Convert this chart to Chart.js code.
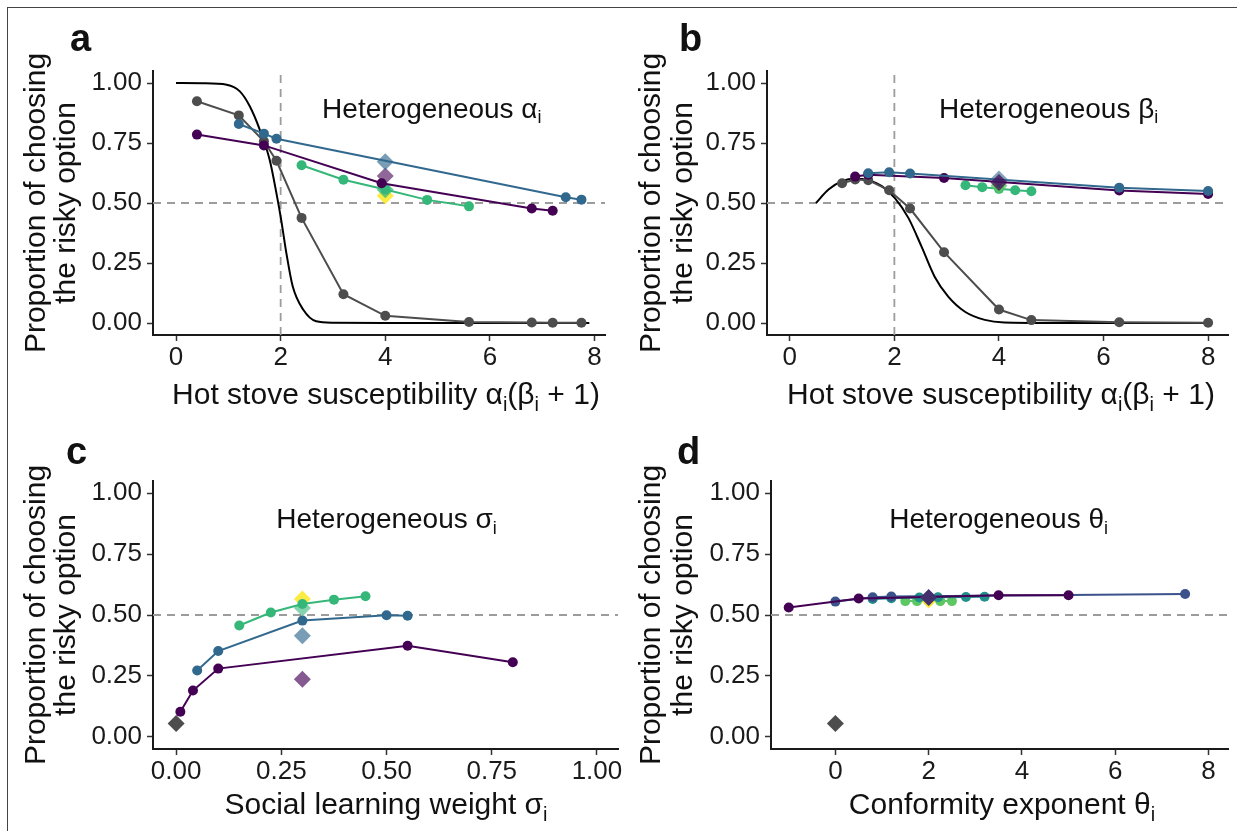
<!DOCTYPE html>
<html lang="en">
<head>
<meta charset="UTF-8">
<title>Proportion of choosing the risky option under heterogeneous parameters</title>
<script src="https://cdn.jsdelivr.net/npm/chart.js"></script>
<style>
  body { margin: 0; background: #fff; }
  #page { position: relative; width: 1237px; height: 831px; overflow: hidden; background: #fff; }
  #page canvas { position: absolute; left: 0; top: 0; }
  #frame { position: absolute; left: 7px; top: 7px; right: -10px; bottom: -10px;
           border-left: 1.5px solid #444; border-top: 1.5px solid #444; }
</style>
</head>
<body>
<div id="page">
  <div id="frame"></div>
  <canvas id="panelA" width="1237" height="831"></canvas>
  <canvas id="panelB" width="1237" height="831"></canvas>
  <canvas id="panelC" width="1237" height="831"></canvas>
  <canvas id="panelD" width="1237" height="831"></canvas>
</div>
<script>
// ---- colours (viridis) ----
const PURPLE = '#440154', BLUE = '#31688E', GREEN = '#35B779', YELLOW = '#FDE725';
const D_BLUE = '#3B528B', D_TEAL = '#21908C', D_GREEN = '#5DC863';
const GRAY = '#4d4d4d';

const yTicks = [0, 0.25, 0.5, 0.75, 1];

// ---- panel a: heterogeneous alpha ----
const aTicksX = [0, 2, 4, 6, 8];
const aCurveX = [0, 0.5, 0.97, 1.22, 1.41, 1.6, 1.79, 1.92, 2.01, 2.11, 2.23, 2.43, 2.68, 3.0, 4, 5, 6, 7, 7.9];
const aCurveY = [1, 0.999, 0.993, 0.965, 0.903, 0.806, 0.68, 0.54, 0.43, 0.29, 0.153, 0.056, 0.007, 0.001, 0, 0, 0, 0, 0];
const aGrayX = [0.4, 1.2, 1.68, 1.92, 2.4, 3.2, 4.0, 5.6, 6.8, 7.2, 7.75];
const aGrayY = [0.924, 0.865, 0.757, 0.676, 0.438, 0.12, 0.03, 0.004, 0.002, 0.001, 0.001];
const aBlueX = [1.2, 1.68, 1.92, 7.45, 7.75];
const aBlueY = [0.829, 0.789, 0.768, 0.524, 0.514];
const aPurpleX = [0.4, 1.68, 3.93, 6.8, 7.2];
const aPurpleY = [0.785, 0.740, 0.582, 0.477, 0.468];
const aGreenX = [2.4, 3.2, 4.0, 4.8, 5.6];
const aGreenY = [0.657, 0.597, 0.556, 0.513, 0.486];
const aMeanX = 4;
const aMeanY = { blue: 0.672, purple: 0.612, green: 0.555, yellow: 0.53 };

// ---- panel b: heterogeneous beta ----
const bTicksX = [0, 2, 4, 6, 8];
const bCurveX = [0.5, 0.74, 1.0, 1.25, 1.5, 1.76, 2.01, 2.27, 2.52, 2.77, 3.03, 3.35, 3.73, 4.1, 5, 6, 7, 8];
const bCurveY = [0.5, 0.556, 0.591, 0.601, 0.595, 0.57, 0.52, 0.437, 0.318, 0.193, 0.11, 0.047, 0.013, 0.002, 0, 0, 0, 0];
const bGrayX = [1.0, 1.25, 1.5, 1.9, 2.3, 2.95, 4.0, 4.62, 6.3, 8.0];
const bGrayY = [0.582, 0.598, 0.595, 0.553, 0.477, 0.295, 0.056, 0.012, 0.003, 0.001];
const bBlueX = [1.5, 1.9, 2.3, 6.3, 8.0];
const bBlueY = [0.624, 0.628, 0.623, 0.564, 0.55];
const bPurpleX = [1.25, 1.5, 2.95, 6.3, 8.0];
const bPurpleY = [0.61, 0.618, 0.604, 0.552, 0.538];
const bGreenX = [3.36, 3.68, 4.0, 4.31, 4.62];
const bGreenY = [0.574, 0.566, 0.559, 0.553, 0.549];
const bMeanX = 4;
const bMeanY = { blue: 0.6, purple: 0.585, green: 0.572 };

// ---- panel c: heterogeneous sigma ----
const cTicksX = [0, 0.25, 0.5, 0.75, 1];
const cPurpleX = [0.01, 0.04, 0.1, 0.55, 0.8];
const cPurpleY = [0.103, 0.19, 0.28, 0.374, 0.306];
const cBlueX = [0.05, 0.1, 0.3, 0.5, 0.55];
const cBlueY = [0.272, 0.352, 0.477, 0.499, 0.497];
const cGreenX = [0.15, 0.225, 0.3, 0.375, 0.45];
const cGreenY = [0.457, 0.51, 0.545, 0.563, 0.577];
const cMeanX = 0.3;
const cMeanY = { yellow: 0.566, green: 0.529, blue: 0.415, purple: 0.236 };
const cAsocial = { x: 0, y: 0.055 };

// ---- panel d: heterogeneous theta ----
const dTicksX = [0, 2, 4, 6, 8];
const dPurpleX = [-1, 0.5, 2, 3.5, 5];
const dPurpleY = [0.531, 0.568, 0.574, 0.581, 0.581];
const dBlueX = [0, 0.8, 1.2, 7.5];
const dBlueY = [0.555, 0.573, 0.576, 0.586];
const dTealX = [0.8, 1.2, 1.8, 2.2, 2.8, 3.2];
const dTealY = [0.566, 0.569, 0.572, 0.573, 0.574, 0.575];
const dGreenX = [1.5, 1.75, 2, 2.25, 2.5];
const dGreenY = [0.557, 0.557, 0.558, 0.557, 0.557];
const dMeanX = 2;
const dMeanY = { yellow: 0.562, dark: 0.572 };
const dAsocial = { x: 0, y: 0.055 };

const FONT = '"Liberation Sans", Arial, Helvetica, sans-serif';
Chart.defaults.font.family = FONT;
Chart.defaults.color = '#1a1a1a';

const pts = (xs, ys) => xs.map((x, i) => ({ x: x, y: ys[i] }));

function series(xs, ys, color, extra) {
  return Object.assign({
    data: pts(xs, ys), showLine: true, borderColor: color, backgroundColor: color,
    borderWidth: 2, pointRadius: 5, pointBorderWidth: 0, tension: 0
  }, extra || {});
}
function curve(xs, ys) {
  return { data: pts(xs, ys), showLine: true, borderColor: '#000', borderWidth: 2,
           pointRadius: 0, cubicInterpolationMode: 'monotone' };
}
function diamond(x, y, color, order) {
  return { data: [{ x: x, y: y }], showLine: false, backgroundColor: color, borderWidth: 0,
           pointStyle: 'rectRot', pointRadius: 8.5, order: order };
}
function dashed(points) {
  return { data: points, showLine: true, borderColor: '#9c9c9c', borderWidth: 1.8,
           borderDash: [8, 6], pointRadius: 0, order: 50 };
}

// text with "_x" marking a one-letter subscript
function drawRich(ctx, text, cx, cy, size) {
  const parts = [];
  for (let i = 0; i < text.length; i++) {
    if (text[i] === '_') { parts.push({ t: text[i + 1], sub: true }); i++; }
    else if (parts.length && !parts[parts.length - 1].sub) parts[parts.length - 1].t += text[i];
    else parts.push({ t: text[i], sub: false });
  }
  const fontOf = p => (p.sub ? Math.round(size * 0.66) : size) + 'px ' + FONT;
  let w = 0;
  parts.forEach(p => { ctx.font = fontOf(p); w += ctx.measureText(p.t).width; });
  let x = cx - w / 2;
  ctx.textAlign = 'left';
  parts.forEach(p => {
    ctx.font = fontOf(p);
    ctx.fillText(p.t, x, cy + (p.sub ? size * 0.3 : 0));
    x += ctx.measureText(p.t).width;
  });
}

const panelText = {
  id: 'panelText',
  afterDraw(chart, args, o) {
    const ctx = chart.ctx;
    ctx.save();
    ctx.fillStyle = '#111';
    // panel letter
    ctx.textBaseline = 'alphabetic';
    ctx.textAlign = 'left';
    ctx.font = 'bold 38px ' + FONT;
    ctx.fillText(o.letter, o.letterX, o.letterY);
    // y-axis title, two rotated lines
    ctx.textBaseline = 'middle';
    ctx.textAlign = 'center';
    ctx.font = '30px ' + FONT;
    ['Proportion of choosing', 'the risky option'].forEach((line, i) => {
      ctx.save();
      ctx.translate(o.yTitleX[i], o.yTitleY);
      ctx.rotate(-Math.PI / 2);
      ctx.fillText(line, 0, 0);
      ctx.restore();
    });
    // x-axis title
    drawRich(ctx, o.xTitle, o.xTitleX, o.xTitleY, 30);
    // in-panel label, placed in data units
    const sx = chart.scales.x, sy = chart.scales.y;
    drawRich(ctx, o.note, sx.getPixelForValue(o.noteX), sy.getPixelForValue(o.noteY), 28);
    ctx.restore();
  }
};

const YW = 100, XH = 60;
function makePanel(id, p) {
  const axisCommon = {
    type: 'linear',
    grid: { drawOnChartArea: false, drawTicks: true, tickLength: 6, tickWidth: 1.5, tickColor: '#333' },
    border: { display: true, color: '#1a1a1a', width: 2 }
  };
  return new Chart(document.getElementById(id), {
    type: 'scatter',
    data: { datasets: p.datasets },
    plugins: [panelText],
    options: {
      responsive: false, animation: false, events: [],
      layout: { padding: { left: p.area[0] - YW, top: p.area[1], right: 1237 - p.area[2], bottom: 831 - p.area[3] - XH } },
      plugins: { legend: { display: false }, tooltip: { enabled: false }, panelText: p.text },
      scales: {
        x: Object.assign({}, axisCommon, {
          min: p.x[0], max: p.x[1],
          afterFit: s => { s.height = XH; },
          afterBuildTicks: s => { s.ticks = p.xTicks.map(v => ({ value: v })); },
          ticks: { font: { size: 26 }, padding: 1, maxRotation: 0, autoSkip: false, callback: p.xFmt }
        }),
        y: Object.assign({}, axisCommon, {
          min: -0.05, max: 1.05,
          afterFit: s => { s.width = YW; },
          afterBuildTicks: s => { s.ticks = yTicks.map(v => ({ value: v })); },
          ticks: { font: { size: 26 }, padding: 5, autoSkip: false, callback: v => v.toFixed(2) }
        })
      }
    }
  });
}

const alpha = (hex, a) => {
  const n = parseInt(hex.slice(1), 16);
  return 'rgba(' + (n >> 16) + ',' + ((n >> 8) & 255) + ',' + (n & 255) + ',' + a + ')';
};
const intFmt = v => String(v);

// a
const aX = [-0.44, 8.2];
makePanel('panelA', {
  area: [153, 71, 605, 335], x: aX, xTicks: aTicksX, xFmt: intFmt,
  datasets: [
    series(aBlueX, aBlueY, BLUE, { order: 1 }),
    series(aPurpleX, aPurpleY, PURPLE, { order: 2 }),
    series(aGreenX, aGreenY, GREEN, { order: 3 }),
    diamond(aMeanX, aMeanY.blue, alpha(BLUE, 0.65), 4),
    diamond(aMeanX, aMeanY.purple, alpha(PURPLE, 0.6), 4),
    diamond(aMeanX, aMeanY.green, alpha(GREEN, 0.75), 5),
    diamond(aMeanX, aMeanY.yellow, alpha(YELLOW, 0.85), 6),
    series(aGrayX, aGrayY, GRAY, { order: 10 }),
    Object.assign(curve(aCurveX, aCurveY), { order: 11 }),
    dashed([{ x: aX[0], y: 0.5 }, { x: aX[1], y: 0.5 }]),
    dashed([{ x: 2, y: -0.05 }, { x: 2, y: 1.05 }])
  ],
  text: { letter: 'a', letterX: 70, letterY: 51, yTitleX: [37, 67], yTitleY: 203,
          xTitle: 'Hot stove susceptibility α_i(β_i + 1)', xTitleX: 386, xTitleY: 396,
          note: 'Heterogeneous α_i', noteX: 4.89, noteY: 0.888 }
});

// b
const bX = [-0.436, 8.39];
makePanel('panelB', {
  area: [767, 71, 1232, 335], x: bX, xTicks: bTicksX, xFmt: intFmt,
  datasets: [
    diamond(bMeanX, bMeanY.purple, alpha(PURPLE, 0.7), 1),
    diamond(bMeanX, bMeanY.blue, alpha(BLUE, 0.6), 2),
    series(bBlueX, bBlueY, BLUE, { order: 3 }),
    series(bPurpleX, bPurpleY, PURPLE, { order: 4 }),
    diamond(bMeanX, bMeanY.green, alpha(D_GREEN, 0.8), 5),
    series(bGreenX, bGreenY, GREEN, { order: 6 }),
    series(bGrayX, bGrayY, GRAY, { order: 10 }),
    Object.assign(curve(bCurveX, bCurveY), { order: 11 }),
    dashed([{ x: bX[0], y: 0.5 }, { x: bX[1], y: 0.5 }]),
    dashed([{ x: 2, y: -0.05 }, { x: 2, y: 1.05 }])
  ],
  text: { letter: 'b', letterX: 679, letterY: 51, yTitleX: [652, 684], yTitleY: 203,
          xTitle: 'Hot stove susceptibility α_i(β_i + 1)', xTitleX: 1001, xTitleY: 396,
          note: 'Heterogeneous β_i', noteX: 4.95, noteY: 0.888 }
});

// c
const cX = [-0.055, 1.05];
makePanel('panelC', {
  area: [153, 481, 618, 749], x: cX, xTicks: cTicksX, xFmt: v => v.toFixed(2),
  datasets: [
    series(cGreenX, cGreenY, GREEN, { order: 1 }),
    diamond(cMeanX, cMeanY.yellow, alpha(YELLOW, 0.85), 2),
    diamond(cMeanX, cMeanY.green, alpha(GREEN, 0.6), 2),
    series(cBlueX, cBlueY, BLUE, { order: 3 }),
    diamond(cMeanX, cMeanY.blue, alpha(BLUE, 0.65), 4),
    series(cPurpleX, cPurpleY, PURPLE, { order: 5 }),
    diamond(cMeanX, cMeanY.purple, alpha(PURPLE, 0.65), 6),
    diamond(cAsocial.x, cAsocial.y, GRAY, 7),
    dashed([{ x: cX[0], y: 0.5 }, { x: cX[1], y: 0.5 }])
  ],
  text: { letter: 'c', letterX: 66, letterY: 464, yTitleX: [37, 67], yTitleY: 615,
          xTitle: 'Social learning weight σ_i', xTitleX: 386, xTitleY: 806,
          note: 'Heterogeneous σ_i', noteX: 0.5, noteY: 0.889 }
});

// d
const dX = [-1.38, 8.43];
makePanel('panelD', {
  area: [771, 481, 1232, 749], x: dX, xTicks: dTicksX, xFmt: intFmt,
  datasets: [
    diamond(dMeanX, dMeanY.dark, '#45306f', 1),
    series(dPurpleX, dPurpleY, PURPLE, { order: 2 }),
    series(dBlueX, dBlueY, D_BLUE, { order: 3 }),
    series(dTealX, dTealY, D_TEAL, { order: 4 }),
    diamond(dMeanX, dMeanY.yellow, alpha(YELLOW, 0.9), 5),
    series(dGreenX, dGreenY, D_GREEN, { order: 6 }),
    diamond(dAsocial.x, dAsocial.y, GRAY, 7),
    dashed([{ x: dX[0], y: 0.5 }, { x: dX[1], y: 0.5 }])
  ],
  text: { letter: 'd', letterX: 677, letterY: 464, yTitleX: [652, 684], yTitleY: 615,
          xTitle: 'Conformity exponent θ_i', xTitleX: 1002, xTitleY: 806,
          note: 'Heterogeneous θ_i', noteX: 3.5, noteY: 0.889 }
});
</script>
</body>
</html>
